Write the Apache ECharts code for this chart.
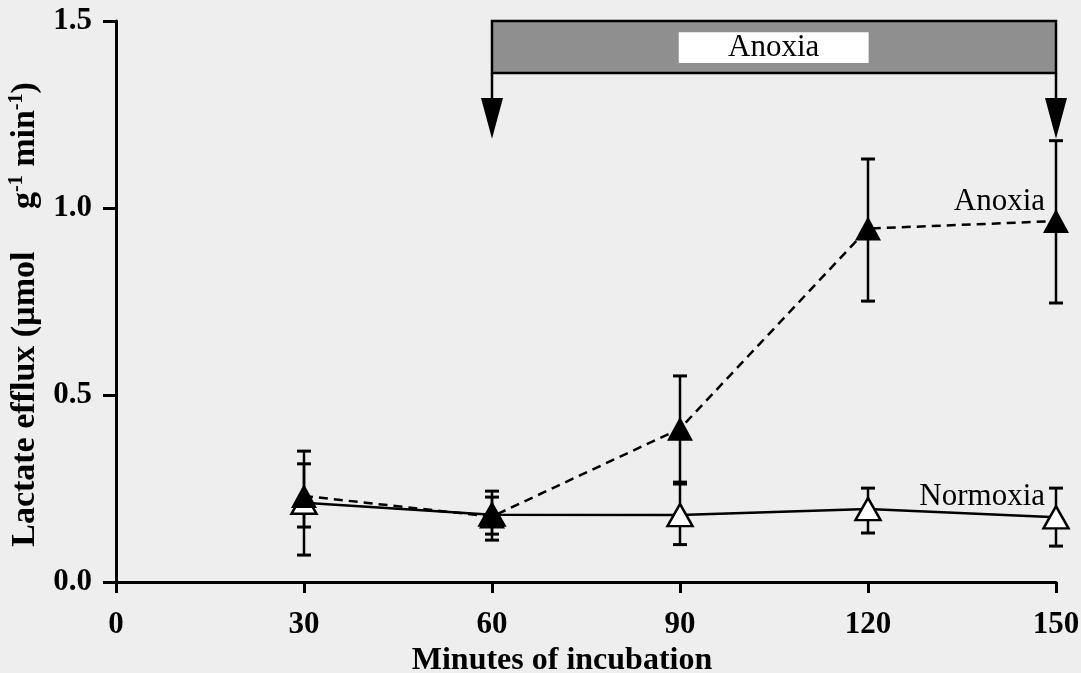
<!DOCTYPE html>
<html>
<head>
<meta charset="utf-8">
<script src="https://cdn.jsdelivr.net/npm/echarts@6/dist/echarts.min.js"></script>
<style>
  html, body { margin: 0; padding: 0; background: #eeeeee; }
  #chart { width: 1081px; height: 673px; }
</style>
</head>
<body>
<div id="chart"></div>
<script>
// Lactate efflux (µmol g-1 min-1) over the incubation time
const minutes = [30, 60, 90, 120, 150];

const anoxiaMean = [0.23, 0.175, 0.41, 0.945, 0.965];
const anoxiaLow  = [0.072, 0.112, 0.267, 0.751, 0.746];
const anoxiaHigh = [0.350, 0.243, 0.551, 1.131, 1.180];

const normoxiaMean = [0.212, 0.18, 0.179, 0.195, 0.173];
const normoxiaLow  = [0.147, 0.128, 0.100, 0.131, 0.096];
const normoxiaHigh = [0.316, 0.227, 0.262, 0.251, 0.251];

const xTicks = [0, 30, 60, 90, 120, 150];
const yTicks = [0.0, 0.5, 1.0, 1.5];

const anoxiaPeriod = [60, 150];
const lineLabels = ['Anoxia', 'Normoxia'];

const SERIF = '"Liberation Serif", "Times New Roman", serif';
const INK = '#000000';

const chart = echarts.init(document.getElementById('chart'));

function errorBarSeries(low, high, z) {
  return {
    type: 'custom',
    z: z,
    silent: true,
    encode: { x: 0, y: [1, 2] },
    data: minutes.map((m, i) => [m, low[i], high[i]]),
    renderItem(params, api) {
      const x = api.value(0);
      const lo = api.coord([x, api.value(1)]);
      const hi = api.coord([x, api.value(2)]);
      const w = 7;
      const style = { stroke: INK, lineWidth: 2.5 };
      const cap = { stroke: INK, lineWidth: 3 };
      return {
        type: 'group',
        children: [
          { type: 'line', shape: { x1: lo[0], y1: lo[1], x2: hi[0], y2: hi[1] }, style },
          { type: 'line', shape: { x1: lo[0] - w, y1: lo[1], x2: lo[0] + w, y2: lo[1] }, style: cap },
          { type: 'line', shape: { x1: hi[0] - w, y1: hi[1], x2: hi[0] + w, y2: hi[1] }, style: cap }
        ]
      };
    }
  };
}

const option = {
  backgroundColor: '#eeeeee',
  animation: false,
  grid: { left: 116, right: 25, top: 21, bottom: 91, containLabel: false, outerBoundsMode: 'none' },
  xAxis: {
    type: 'value',
    min: xTicks[0],
    max: xTicks[xTicks.length - 1],
    interval: 30,
    name: 'Minutes of incubation',
    nameLocation: 'middle',
    nameGap: 51,
    nameTextStyle: {
      fontFamily: SERIF, fontSize: 32, fontWeight: 'bold', color: INK,
      padding: [0, 48, 0, 0]
    },
    axisLine: { show: true, lineStyle: { color: INK, width: 3 } },
    axisTick: { show: true, length: 11, lineStyle: { color: INK, width: 3 } },
    axisLabel: {
      fontFamily: SERIF, fontSize: 31, fontWeight: 'bold', color: INK, margin: 27,
      formatter: v => String(v)
    },
    splitLine: { show: false }
  },
  yAxis: {
    type: 'value',
    min: yTicks[0],
    max: yTicks[yTicks.length - 1],
    interval: 0.5,
    name: 'Lactate efflux (µmol     g{sup|-1} min{sup|-1})',
    nameLocation: 'middle',
    nameRotate: 90,
    nameGap: 65,
    nameTextStyle: {
      fontFamily: SERIF, fontSize: 34, fontWeight: 'bold', color: INK,
      padding: [0, 26, 0, 0],
      rich: {
        sup: {
          fontFamily: SERIF, fontSize: 20, fontWeight: 'bold', color: INK,
          padding: [0, 0, 18, 0]
        }
      }
    },
    axisLine: { show: true, lineStyle: { color: INK, width: 3 } },
    axisTick: { show: true, length: 13, lineStyle: { color: INK, width: 3 } },
    axisLabel: {
      fontFamily: SERIF, fontSize: 31, fontWeight: 'bold', color: INK, margin: 24,
      formatter: v => v.toFixed(1)
    },
    splitLine: { show: false }
  },
  series: [
    // shaded anoxia period with its start/end arrows
    {
      type: 'custom',
      z: 1,
      silent: true,
      data: [[anoxiaPeriod[0], anoxiaPeriod[1]]],
      encode: { x: [0, 1] },
      renderItem(params, api) {
        const x0 = api.value(0), x1 = api.value(1);
        const tl = api.coord([x0, 1.5]);
        const br = api.coord([x1, 1.361]);
        const wtl = api.coord([89.8, 1.47]);
        const wbr = api.coord([120.1, 1.388]);
        const headTop = api.coord([x0, 1.294])[1];
        const tip = api.coord([x0, 1.185])[1];
        const hw = 11;
        const arrow = (px) => [
          { type: 'line', shape: { x1: px, y1: br[1], x2: px, y2: headTop + 2 },
            style: { stroke: INK, lineWidth: 2.5 } },
          { type: 'polygon', shape: { points: [[px - hw, headTop], [px + hw, headTop], [px, tip]] },
            style: { fill: INK } }
        ];
        return {
          type: 'group',
          children: [
            { type: 'rect', shape: { x: tl[0], y: tl[1], width: br[0] - tl[0], height: br[1] - tl[1] },
              style: { fill: '#8f8f8f', stroke: INK, lineWidth: 2.5 } },
            { type: 'rect', shape: { x: wtl[0], y: wtl[1], width: wbr[0] - wtl[0], height: wbr[1] - wtl[1] },
              style: { fill: '#ffffff' } },
            { type: 'text', x: (wtl[0] + wbr[0]) / 2, y: (wtl[1] + wbr[1]) / 2,
              style: { text: 'Anoxia', fontFamily: SERIF, fontSize: 31, fill: INK,
                       align: 'center', verticalAlign: 'middle' } },
            ...arrow(tl[0]),
            ...arrow(br[0])
          ]
        };
      }
    },
    errorBarSeries(normoxiaLow, normoxiaHigh, 2),
    errorBarSeries(anoxiaLow, anoxiaHigh, 2),
    {
      name: 'Normoxia',
      type: 'line',
      z: 3,
      data: minutes.map((m, i) => [m, normoxiaMean[i]]),
      symbol: 'triangle',
      symbolSize: [25, 22],
      showAllSymbol: true,
      lineStyle: { color: INK, width: 2.5, type: 'solid' },
      itemStyle: { color: '#ffffff', borderColor: INK, borderWidth: 2.5 },
      emphasis: { disabled: true }
    },
    {
      name: 'Anoxia',
      type: 'line',
      z: 4,
      data: minutes.map((m, i) => [m, anoxiaMean[i]]),
      symbol: 'triangle',
      symbolSize: [26, 24],
      showAllSymbol: true,
      lineStyle: { color: INK, width: 2.5, type: [9, 6] },
      itemStyle: { color: INK, borderColor: INK, borderWidth: 0 },
      emphasis: { disabled: true }
    },
    // curve names next to the last points
    {
      type: 'custom',
      z: 5,
      silent: true,
      data: [[150, 1.016], [150, 0.227]],
      renderItem(params, api) {
        const p = api.coord([api.value(0), api.value(1)]);
        return {
          type: 'text', x: p[0] - 11, y: p[1],
          style: { text: lineLabels[params.dataIndex], fontFamily: SERIF, fontSize: 31,
                   fill: INK, align: 'right', verticalAlign: 'middle' }
        };
      }
    }
  ]
};

chart.setOption(option);
</script>
</body>
</html>
